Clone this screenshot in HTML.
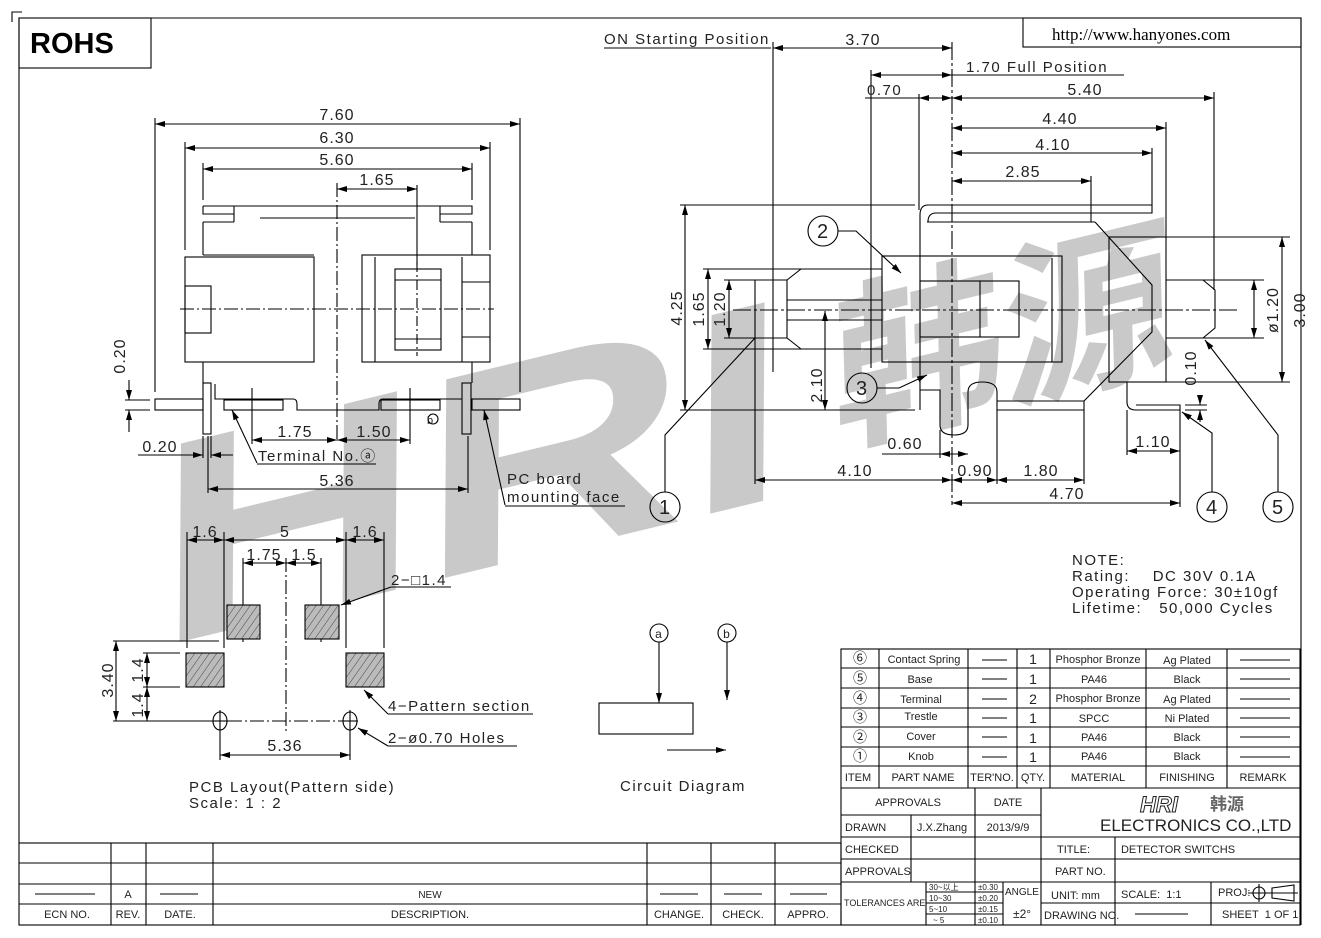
<!DOCTYPE html>
<html><head><meta charset="utf-8">
<style>
html,body{margin:0;padding:0;background:#fff;}
svg{display:block;}
text{font-family:"Liberation Sans","Noto Sans CJK SC",sans-serif;fill:#222;}
.d{font-size:16px;letter-spacing:1px;}
.s{font-size:15px;letter-spacing:1.5px;}
.t{font-size:11px;}
</style></head><body>
<svg width="1321" height="938" viewBox="0 0 1321 938" xmlns="http://www.w3.org/2000/svg">
<defs>
<marker id="a" viewBox="0 0 10 6" refX="10" refY="3" markerWidth="10" markerHeight="6" markerUnits="userSpaceOnUse" orient="auto-start-reverse"><path d="M0,0 L10,3 L0,6 z" fill="#000"/></marker>
</defs>

<!-- watermark -->
<text transform="translate(155,648) rotate(-13.6) skewX(-14) scale(1.35,1)" style="font-family:'Liberation Sans',sans-serif;font-weight:bold;font-size:280px;fill:#c9c9c9">HRI</text>
<text transform="translate(835,440) rotate(-13.6) skewX(-12)" style="font-family:'Noto Sans CJK SC',sans-serif;font-weight:bold;font-size:175px;fill:#c9c9c9">韩源</text>

<g stroke="#000" stroke-width="1.1" fill="none">
<!-- frame -->
<path d="M12,22 V12 H22"/>
<path d="M19,843 V18 H1301 V925"/>
<rect x="19" y="18" width="132" height="50"/>
<rect x="1023" y="18" width="278" height="29"/>

<!-- ===== top-left drawing ===== -->
<line x1="155" y1="124" x2="520" y2="124" marker-start="url(#a)" marker-end="url(#a)"/>
<line x1="155" y1="118" x2="155" y2="392"/><line x1="520" y1="118" x2="520" y2="392"/>
<line x1="185" y1="148" x2="490" y2="148" marker-start="url(#a)" marker-end="url(#a)"/>
<line x1="185" y1="142" x2="185" y2="250"/><line x1="490" y1="142" x2="490" y2="250"/>
<line x1="203" y1="169" x2="472" y2="169" marker-start="url(#a)" marker-end="url(#a)"/>
<line x1="203" y1="163" x2="203" y2="200"/><line x1="472" y1="163" x2="472" y2="200"/>
<line x1="337" y1="189" x2="417" y2="189" marker-start="url(#a)" marker-end="url(#a)"/>
<line x1="417" y1="185" x2="417" y2="265"/>
<line x1="337" y1="183" x2="337" y2="440" stroke-dasharray="14 3 2 3"/>
<line x1="180" y1="309" x2="494" y2="309" stroke-dasharray="14 3 2 3"/>
<line x1="417" y1="262" x2="417" y2="356" stroke-dasharray="10 3 2 3"/>
<path d="M203,206 H472 V214 H440 V222 M203,206 V214 H234 V222 M234,214 V206 M440,206 V214"/>
<path d="M203,222 H234 M440,222 H472"/>
<line x1="260" y1="218" x2="415" y2="218"/>
<line x1="203" y1="222" x2="203" y2="255"/><line x1="472" y1="222" x2="472" y2="255"/>
<line x1="203" y1="255" x2="314" y2="255"/><line x1="362" y1="255" x2="472" y2="255"/>
<rect x="185" y="257" width="129" height="105"/>
<rect x="185" y="286" width="26" height="47"/>
<rect x="362" y="255" width="128" height="107"/>
<line x1="375" y1="257" x2="375" y2="362"/><line x1="462" y1="257" x2="462" y2="362"/>
<line x1="462" y1="282" x2="490" y2="282"/><line x1="462" y1="337" x2="490" y2="337"/>
<rect x="395" y="269" width="46" height="81"/>
<line x1="395" y1="280" x2="441" y2="280"/><line x1="395" y1="339" x2="441" y2="339"/>
<line x1="203" y1="362" x2="203" y2="383"/><line x1="472" y1="362" x2="472" y2="383"/>
<rect x="203" y="383" width="8" height="51"/><rect x="462" y="383" width="9" height="51"/>
<rect x="155" y="399" width="48" height="11"/><rect x="472" y="399" width="48" height="11"/>
<path d="M215,384 V399 H293 Q297,399 297,404 V410 H379 V404 Q379,399 383,399 H462"/>
<rect x="224" y="400" width="59" height="10"/><rect x="381" y="400" width="59" height="10"/>
<line x1="252" y1="388" x2="252" y2="444"/><line x1="410" y1="388" x2="410" y2="444"/>
<line x1="252" y1="440" x2="337" y2="440" marker-start="url(#a)" marker-end="url(#a)"/>
<line x1="337" y1="440" x2="410" y2="440" marker-start="url(#a)" marker-end="url(#a)"/>
<line x1="129" y1="380" x2="129" y2="400" marker-end="url(#a)"/><line x1="129" y1="432" x2="129" y2="410" marker-end="url(#a)"/>
<line x1="125" y1="400" x2="150" y2="400"/><line x1="125" y1="410" x2="150" y2="410"/>
<line x1="138" y1="455" x2="203" y2="455" marker-end="url(#a)"/><line x1="233" y1="455" x2="211" y2="455" marker-end="url(#a)"/>
<line x1="203" y1="436" x2="203" y2="458"/><line x1="211" y1="436" x2="211" y2="458"/>
<line x1="208" y1="436" x2="208" y2="493"/><line x1="468" y1="436" x2="468" y2="493"/>
<line x1="208" y1="489" x2="468" y2="489" marker-start="url(#a)" marker-end="url(#a)"/>
<line x1="257" y1="463" x2="232" y2="410" marker-end="url(#a)"/><line x1="257" y1="464" x2="376" y2="464"/>
<line x1="505" y1="505" x2="484" y2="410" marker-end="url(#a)"/><line x1="505" y1="506" x2="625" y2="506"/>
<circle cx="433" cy="419" r="5"/>

<!-- ===== right drawing ===== -->
<line x1="604" y1="48" x2="771" y2="48"/>
<line x1="773" y1="48" x2="952" y2="48" marker-start="url(#a)" marker-end="url(#a)"/>
<line x1="773" y1="42" x2="773" y2="372"/>
<line x1="952" y1="42" x2="952" y2="505" stroke-dasharray="18 3 3 3"/>
<line x1="871" y1="75" x2="952" y2="75" marker-start="url(#a)" marker-end="url(#a)"/>
<line x1="952" y1="75" x2="1124" y2="75"/>
<line x1="871" y1="70" x2="871" y2="368"/>
<line x1="865" y1="98" x2="919" y2="98"/>
<line x1="919" y1="98" x2="952" y2="98" marker-start="url(#a)" marker-end="url(#a)"/>
<line x1="952" y1="98" x2="1214" y2="98" marker-start="url(#a)" marker-end="url(#a)"/>
<line x1="919" y1="94" x2="919" y2="210"/>
<line x1="1214" y1="92" x2="1214" y2="290"/>
<line x1="952" y1="128" x2="1166" y2="128" marker-start="url(#a)" marker-end="url(#a)"/>
<line x1="1166" y1="122" x2="1166" y2="237"/>
<line x1="952" y1="153" x2="1152" y2="153" marker-start="url(#a)" marker-end="url(#a)"/>
<line x1="1152" y1="148" x2="1152" y2="206"/>
<line x1="952" y1="181" x2="1091" y2="181" marker-start="url(#a)" marker-end="url(#a)"/>
<line x1="1091" y1="176" x2="1091" y2="222"/>
<line x1="680" y1="205" x2="915" y2="205"/>
<line x1="685" y1="205" x2="685" y2="410" marker-start="url(#a)" marker-end="url(#a)"/>
<line x1="680" y1="410" x2="915" y2="410"/>
<path d="M928,205 H1152 V213 H936 Q928,213 928,222 M928,205 Q920,205 920,215 V410"/>
<line x1="927" y1="222" x2="1095" y2="222"/>
<path d="M1095,222 L1152,285 V332 L1084,401"/>
<rect x="1109" y="237" width="57" height="145"/>
<path d="M1166,280 H1203 L1215,290 V328 L1203,338 H1166"/>
<line x1="1203" y1="280" x2="1264" y2="280"/><line x1="1203" y1="338" x2="1264" y2="338"/>
<line x1="1254" y1="280" x2="1254" y2="338" marker-start="url(#a)" marker-end="url(#a)"/>
<line x1="1166" y1="237" x2="1290" y2="237"/><line x1="1166" y1="382" x2="1290" y2="382"/>
<line x1="1282" y1="237" x2="1282" y2="382" marker-start="url(#a)" marker-end="url(#a)"/>
<rect x="882" y="256" width="180" height="106"/>
<line x1="1052" y1="258" x2="1052" y2="362"/>
<rect x="920" y="281" width="99" height="56"/>
<line x1="980" y1="281" x2="980" y2="337"/>
<path d="M755,280 H787 L801,269 H882 M755,338 H787 L801,349 H882 M755,280 V338 M787,280 V338"/>
<line x1="787" y1="300" x2="882" y2="300"/><line x1="787" y1="320" x2="882" y2="320"/>
<line x1="703" y1="269" x2="801" y2="269"/><line x1="703" y1="349" x2="801" y2="349"/>
<line x1="708" y1="269" x2="708" y2="349" marker-start="url(#a)" marker-end="url(#a)"/>
<line x1="724" y1="280" x2="755" y2="280"/><line x1="724" y1="338" x2="755" y2="338"/>
<line x1="729" y1="280" x2="729" y2="338" marker-start="url(#a)" marker-end="url(#a)"/>
<line x1="733" y1="310" x2="1240" y2="310" stroke-dasharray="18 3 3 3"/>
<line x1="825" y1="311" x2="825" y2="410" marker-start="url(#a)" marker-end="url(#a)"/>
<path d="M920,390 H940 V425 Q940,435 954,435 Q968,435 968,425 V392 Q968,382 982,382 Q997,382 997,392 V410 H1084 V401 H997"/>
<path d="M1127,382 V402 Q1127,410 1136,410 H1180 V405 H1136"/>
<line x1="1200" y1="395" x2="1200" y2="405" marker-end="url(#a)"/><line x1="1200" y1="422" x2="1200" y2="410" marker-end="url(#a)"/>
<line x1="1185" y1="405" x2="1207" y2="405"/><line x1="1185" y1="410" x2="1207" y2="410"/>
<line x1="755" y1="338" x2="755" y2="484"/><line x1="997" y1="410" x2="997" y2="484"/>
<line x1="1084" y1="410" x2="1084" y2="484"/><line x1="1180" y1="410" x2="1180" y2="507"/>
<line x1="1127" y1="410" x2="1127" y2="455"/><line x1="940" y1="430" x2="940" y2="458"/>
<line x1="882" y1="454" x2="940" y2="454"/><line x1="940" y1="454" x2="968" y2="454" marker-start="url(#a)" marker-end="url(#a)"/>
<line x1="755" y1="480" x2="952" y2="480" marker-start="url(#a)" marker-end="url(#a)"/>
<line x1="952" y1="480" x2="997" y2="480" marker-start="url(#a)" marker-end="url(#a)"/>
<line x1="997" y1="480" x2="1084" y2="480" marker-start="url(#a)" marker-end="url(#a)"/>
<line x1="952" y1="503" x2="1180" y2="503" marker-start="url(#a)" marker-end="url(#a)"/>
<line x1="1127" y1="451" x2="1180" y2="451" marker-start="url(#a)" marker-end="url(#a)"/>
<circle cx="665" cy="507" r="15"/><path d="M665,492 V435 L755,338"/>
<circle cx="823" cy="231" r="15"/><path d="M838,231 H856 L901,273" marker-end="url(#a)"/>
<circle cx="862" cy="388" r="15"/><path d="M877,388 H899 L927,375" marker-end="url(#a)"/>
<circle cx="1212" cy="507" r="15"/><path d="M1212,492 V433 L1182,412" marker-end="url(#a)"/>
<circle cx="1278" cy="507" r="15"/><path d="M1278,492 V435 L1205,340" marker-end="url(#a)"/>

<!-- ===== PCB layout ===== -->
<line x1="187" y1="532" x2="187" y2="648"/><line x1="224" y1="532" x2="224" y2="648"/>
<line x1="346" y1="532" x2="346" y2="648"/><line x1="384" y1="532" x2="384" y2="648"/>
<line x1="187" y1="540" x2="224" y2="540" marker-start="url(#a)" marker-end="url(#a)"/>
<line x1="224" y1="540" x2="346" y2="540" marker-start="url(#a)" marker-end="url(#a)"/>
<line x1="346" y1="540" x2="384" y2="540" marker-start="url(#a)" marker-end="url(#a)"/>
<line x1="243" y1="558" x2="243" y2="642"/><line x1="321" y1="558" x2="321" y2="642"/>
<line x1="243" y1="563" x2="286" y2="563" marker-start="url(#a)" marker-end="url(#a)"/>
<line x1="286" y1="563" x2="321" y2="563" marker-start="url(#a)" marker-end="url(#a)"/>
<line x1="286" y1="558" x2="286" y2="732" stroke-dasharray="14 3 2 3"/>
<line x1="113" y1="641" x2="219" y2="641"/>
<line x1="143" y1="653" x2="180" y2="653"/><line x1="143" y1="687" x2="180" y2="687"/>
<line x1="113" y1="721" x2="212" y2="721"/>
<line x1="116" y1="641" x2="116" y2="721" marker-start="url(#a)" marker-end="url(#a)"/>
<line x1="147" y1="653" x2="147" y2="687" marker-start="url(#a)" marker-end="url(#a)"/>
<line x1="147" y1="687" x2="147" y2="721" marker-start="url(#a)" marker-end="url(#a)"/>
<line x1="228" y1="721" x2="342" y2="721" stroke-dasharray="14 3 2 3"/>
<ellipse cx="220" cy="721" rx="7" ry="9"/><ellipse cx="350" cy="721" rx="7" ry="9"/>
<line x1="212" y1="721" x2="228" y2="721"/><line x1="342" y1="721" x2="358" y2="721"/>
<line x1="220" y1="710" x2="220" y2="760"/><line x1="350" y1="710" x2="350" y2="760"/>
<line x1="220" y1="755" x2="350" y2="755" marker-start="url(#a)" marker-end="url(#a)"/>
<line x1="391" y1="587" x2="451" y2="587"/><line x1="391" y1="587" x2="341" y2="605" marker-end="url(#a)"/>
<line x1="388" y1="714" x2="533" y2="714"/><line x1="388" y1="714" x2="364" y2="690" marker-end="url(#a)"/>
<line x1="388" y1="746" x2="517" y2="746"/><line x1="388" y1="746" x2="358" y2="728" marker-end="url(#a)"/>
<circle cx="659" cy="633" r="9"/><circle cx="727" cy="633" r="9"/>
<line x1="659" y1="642" x2="659" y2="703" marker-end="url(#a)"/>
<line x1="727" y1="642" x2="727" y2="700" marker-end="url(#a)"/>
<rect x="599" y="703" width="94" height="31"/>
<line x1="667" y1="750" x2="726" y2="750" marker-end="url(#a)"/>
</g>
<defs><pattern id="h" width="6" height="6" patternUnits="userSpaceOnUse" patternTransform="rotate(35)"><rect width="6" height="6" fill="#bbb"/><line x1="0" y1="0" x2="0" y2="6" stroke="#444" stroke-width="1"/></pattern></defs>
<g stroke="#000" stroke-width="1.1" fill="url(#h)">
<rect x="227" y="605" width="33" height="34"/><rect x="305" y="605" width="34" height="34"/>
<rect x="186" y="653" width="38" height="34"/><rect x="346" y="653" width="38" height="34"/>
</g>

<text x="30" y="53" style="font-family:'Liberation Sans',sans-serif;font-weight:bold;font-size:29px;fill:#000">ROHS</text>
<text x="1052" y="40" style="font-family:'Liberation Serif',serif;font-size:17px;fill:#000">http://www.hanyones.com</text>
<g class="d" text-anchor="middle">
<text x="337" y="120">7.60</text><text x="337" y="143">6.30</text><text x="337" y="165">5.60</text>
<text x="377" y="185">1.65</text><text x="295" y="437">1.75</text><text x="374" y="437">1.50</text>
<text x="160" y="452">0.20</text><text x="337" y="486">5.36</text>
<text x="863" y="45">3.70</text><text x="1085" y="95">5.40</text><text x="1060" y="124">4.40</text>
<text x="1053" y="150">4.10</text><text x="1023" y="177">2.85</text>
<text x="905" y="449">0.60</text><text x="855" y="476">4.10</text><text x="975" y="476">0.90</text>
<text x="1041" y="476">1.80</text><text x="1067" y="499">4.70</text><text x="1153" y="447">1.10</text>
<text x="205" y="537">1.6</text><text x="285" y="537">5</text><text x="365" y="537">1.6</text>
<text x="264" y="560">1.75</text><text x="304" y="560">1.5</text><text x="285" y="751">5.36</text>
<text transform="translate(125,356) rotate(-90)">0.20</text>
<text transform="translate(682,308) rotate(-90)">4.25</text>
<text transform="translate(704,309) rotate(-90)">1.65</text>
<text transform="translate(725,309) rotate(-90)">1.20</text>
<text transform="translate(822,385) rotate(-90)">2.10</text>
<text transform="translate(1278,310) rotate(-90)">ø1.20</text>
<text transform="translate(1305,310) rotate(-90)">3.00</text>
<text transform="translate(1196,368) rotate(-90)">0.10</text>
<text transform="translate(113,680) rotate(-90)">3.40</text>
<text transform="translate(143,670) rotate(-90)">1.4</text>
<text transform="translate(143,705) rotate(-90)">1.4</text>
<text x="665" y="514" style="font-size:20px">1</text><text x="823" y="238" style="font-size:20px">2</text>
<text x="862" y="395" style="font-size:20px">3</text><text x="1212" y="514" style="font-size:20px">4</text>
<text x="1278" y="514" style="font-size:20px">5</text>
<text x="659" y="638" style="font-size:12px">a</text><text x="727" y="638" style="font-size:12px">b</text>
</g>
<g class="s">
<text x="604" y="44">ON Starting Position</text>
<text x="966" y="72">1.70 Full Position</text>
<text x="867" y="95">0.70</text>
<text x="258" y="461">Terminal No.ⓐ</text>
<text x="507" y="484">PC board</text><text x="507" y="502">mounting face</text>
<text x="427" y="424" style="font-size:11px">b</text>
<text x="391" y="585">2−□1.4</text>
<text x="388" y="711">4−Pattern section</text>
<text x="388" y="743">2−ø0.70 Holes</text>
<text x="189" y="792">PCB Layout(Pattern side)</text>
<text x="189" y="808">Scale: 1 : 2</text>
<text x="620" y="791">Circuit Diagram</text>
<text x="1072" y="565">NOTE:</text>
<text x="1072" y="581">Rating:&#160;&#160;&#160;&#160;DC 30V 0.1A</text>
<text x="1072" y="597">Operating Force: 30±10gf</text>
<text x="1072" y="613">Lifetime:&#160;&#160;&#160;50,000 Cycles</text>
</g>

<g stroke="#000" stroke-width="1.1" fill="none">
<rect x="841" y="649" width="459" height="276"/>
<path d="M841,668 H1300 M841,688 H1300 M841,708 H1300 M841,727 H1300 M841,747 H1300 M841,766 H1300 M841,788 H1300"/>
<path d="M879,649 V788 M968,649 V788 M1017,649 V788 M1050,649 V788 M1146,649 V788 M1227,649 V788"/>
<path d="M841,815 H1041 M841,837 H1300 M841,859 H1300 M841,882 H1300 M1041,903 H1300"/>
<path d="M975,788 V882 M1041,788 V925 M911,815 V882 M1115,837 V925 M1211,882 V925"/>
<path d="M926,882 V925 M975,882 V925 M1003,882 V925 M926,892 H1003 M926,903 H1003 M926,914 H1003"/>
<rect x="19" y="843" width="822" height="82"/>
<path d="M19,863 H841 M19,884 H841 M19,904 H841"/>
<path d="M111,843 V925 M146,843 V925 M213,843 V925 M647,843 V925 M711,843 V925 M775,843 V925"/>
<path d="M35,894 H95 M160,894 H198 M660,894 H698 M724,894 H762 M790,894 H827"/>
<path d="M1240,660 H1290 M1240,679 H1290 M1240,699 H1290 M1240,718 H1290 M1240,737 H1290 M1240,757 H1290"/>
<path d="M982,660 H1007 M982,679 H1007 M982,699 H1007 M982,718 H1007 M982,737 H1007 M982,757 H1007"/>
<path d="M1135,914 H1188"/>
<circle cx="1259" cy="893" r="6"/><path d="M1248,893 H1298 M1259,884 V902 M1272,888 L1294,885 V901 L1272,898 Z"/>
</g>
<g class="t" text-anchor="middle">
<text x="860" y="663" style="font-size:14px">⑥</text><text x="860" y="683" style="font-size:14px">⑤</text>
<text x="860" y="703" style="font-size:14px">④</text><text x="860" y="722" style="font-size:14px">③</text>
<text x="860" y="742" style="font-size:14px">②</text><text x="860" y="761" style="font-size:14px">①</text>
<text x="924" y="663">Contact Spring</text><text x="920" y="683">Base</text><text x="921" y="703">Terminal</text>
<text x="921" y="720">Trestle</text><text x="921" y="740">Cover</text><text x="921" y="760">Knob</text>
<text x="1033" y="664" style="font-size:14px">1</text><text x="1033" y="684" style="font-size:14px">1</text>
<text x="1033" y="704" style="font-size:14px">2</text><text x="1033" y="723" style="font-size:14px">1</text>
<text x="1033" y="743" style="font-size:14px">1</text><text x="1033" y="762" style="font-size:14px">1</text>
<text x="1098" y="663">Phosphor Bronze</text><text x="1094" y="683">PA46</text><text x="1098" y="702">Phosphor Bronze</text>
<text x="1094" y="722">SPCC</text><text x="1094" y="741">PA46</text><text x="1094" y="760">PA46</text>
<text x="1187" y="664">Ag Plated</text><text x="1187" y="683">Black</text><text x="1187" y="703">Ag Plated</text>
<text x="1187" y="722">Ni Plated</text><text x="1187" y="741">Black</text><text x="1187" y="760">Black</text>
<text x="858" y="781">ITEM</text><text x="923" y="781">PART NAME</text><text x="992" y="781">TER'NO.</text>
<text x="1033" y="781">QTY.</text><text x="1098" y="781">MATERIAL</text><text x="1187" y="781">FINISHING</text><text x="1263" y="781">REMARK</text>
<text x="908" y="806">APPROVALS</text><text x="1008" y="806">DATE</text>
<text x="942" y="831">J.X.Zhang</text><text x="1008" y="831">2013/9/9</text>
<text x="1178" y="853">DETECTOR SWITCHS</text>
<text x="67" y="918">ECN NO.</text><text x="128" y="918">REV.</text><text x="180" y="918">DATE.</text>
<text x="430" y="918">DESCRIPTION.</text><text x="679" y="918">CHANGE.</text><text x="743" y="918">CHECK.</text><text x="808" y="918">APPRO.</text>
<text x="128" y="898">A</text><text x="430" y="898" style="font-size:10px">NEW</text>
</g>
<g class="t">
<text x="845" y="831">DRAWN</text><text x="845" y="853">CHECKED</text><text x="845" y="875">APPROVALS</text>
<text x="1057" y="853">TITLE:</text><text x="1055" y="875">PART NO.</text>
<text x="1051" y="899">UNIT: mm</text><text x="1121" y="898">SCALE:&#160;&#160;1:1</text><text x="1218" y="896">PROJ:</text>
<text x="1044" y="919">DRAWING NO.</text><text x="1222" y="918">SHEET&#160;&#160;1 OF 1</text>
<text x="844" y="906" style="font-size:9px">TOLERANCES ARE</text>
<text x="1005" y="895" style="font-size:10px">ANGLE</text>
<g style="font-size:8px"><text x="929" y="890">30~以上</text><text x="929" y="901">10~30</text><text x="929" y="912">5~10</text><text x="933" y="923">~ 5</text>
<text x="978" y="890">±0.30</text><text x="978" y="901">±0.20</text><text x="978" y="912">±0.15</text><text x="978" y="923">±0.10</text></g>
<text x="1013" y="918" style="font-size:12px">±2°</text>
</g>
<text x="1140" y="812" style="font-family:'Liberation Sans',sans-serif;font-weight:bold;font-style:italic;font-size:22px;fill:#fff;stroke:#222;stroke-width:1">HRI</text>
<text x="1210" y="810" style="font-family:'Noto Sans CJK SC',sans-serif;font-weight:bold;font-size:17px;fill:#666">韩源</text>
<text x="1100" y="831" style="font-size:17px;fill:#222">ELECTRONICS CO.,LTD</text>
</svg>
</body></html>
